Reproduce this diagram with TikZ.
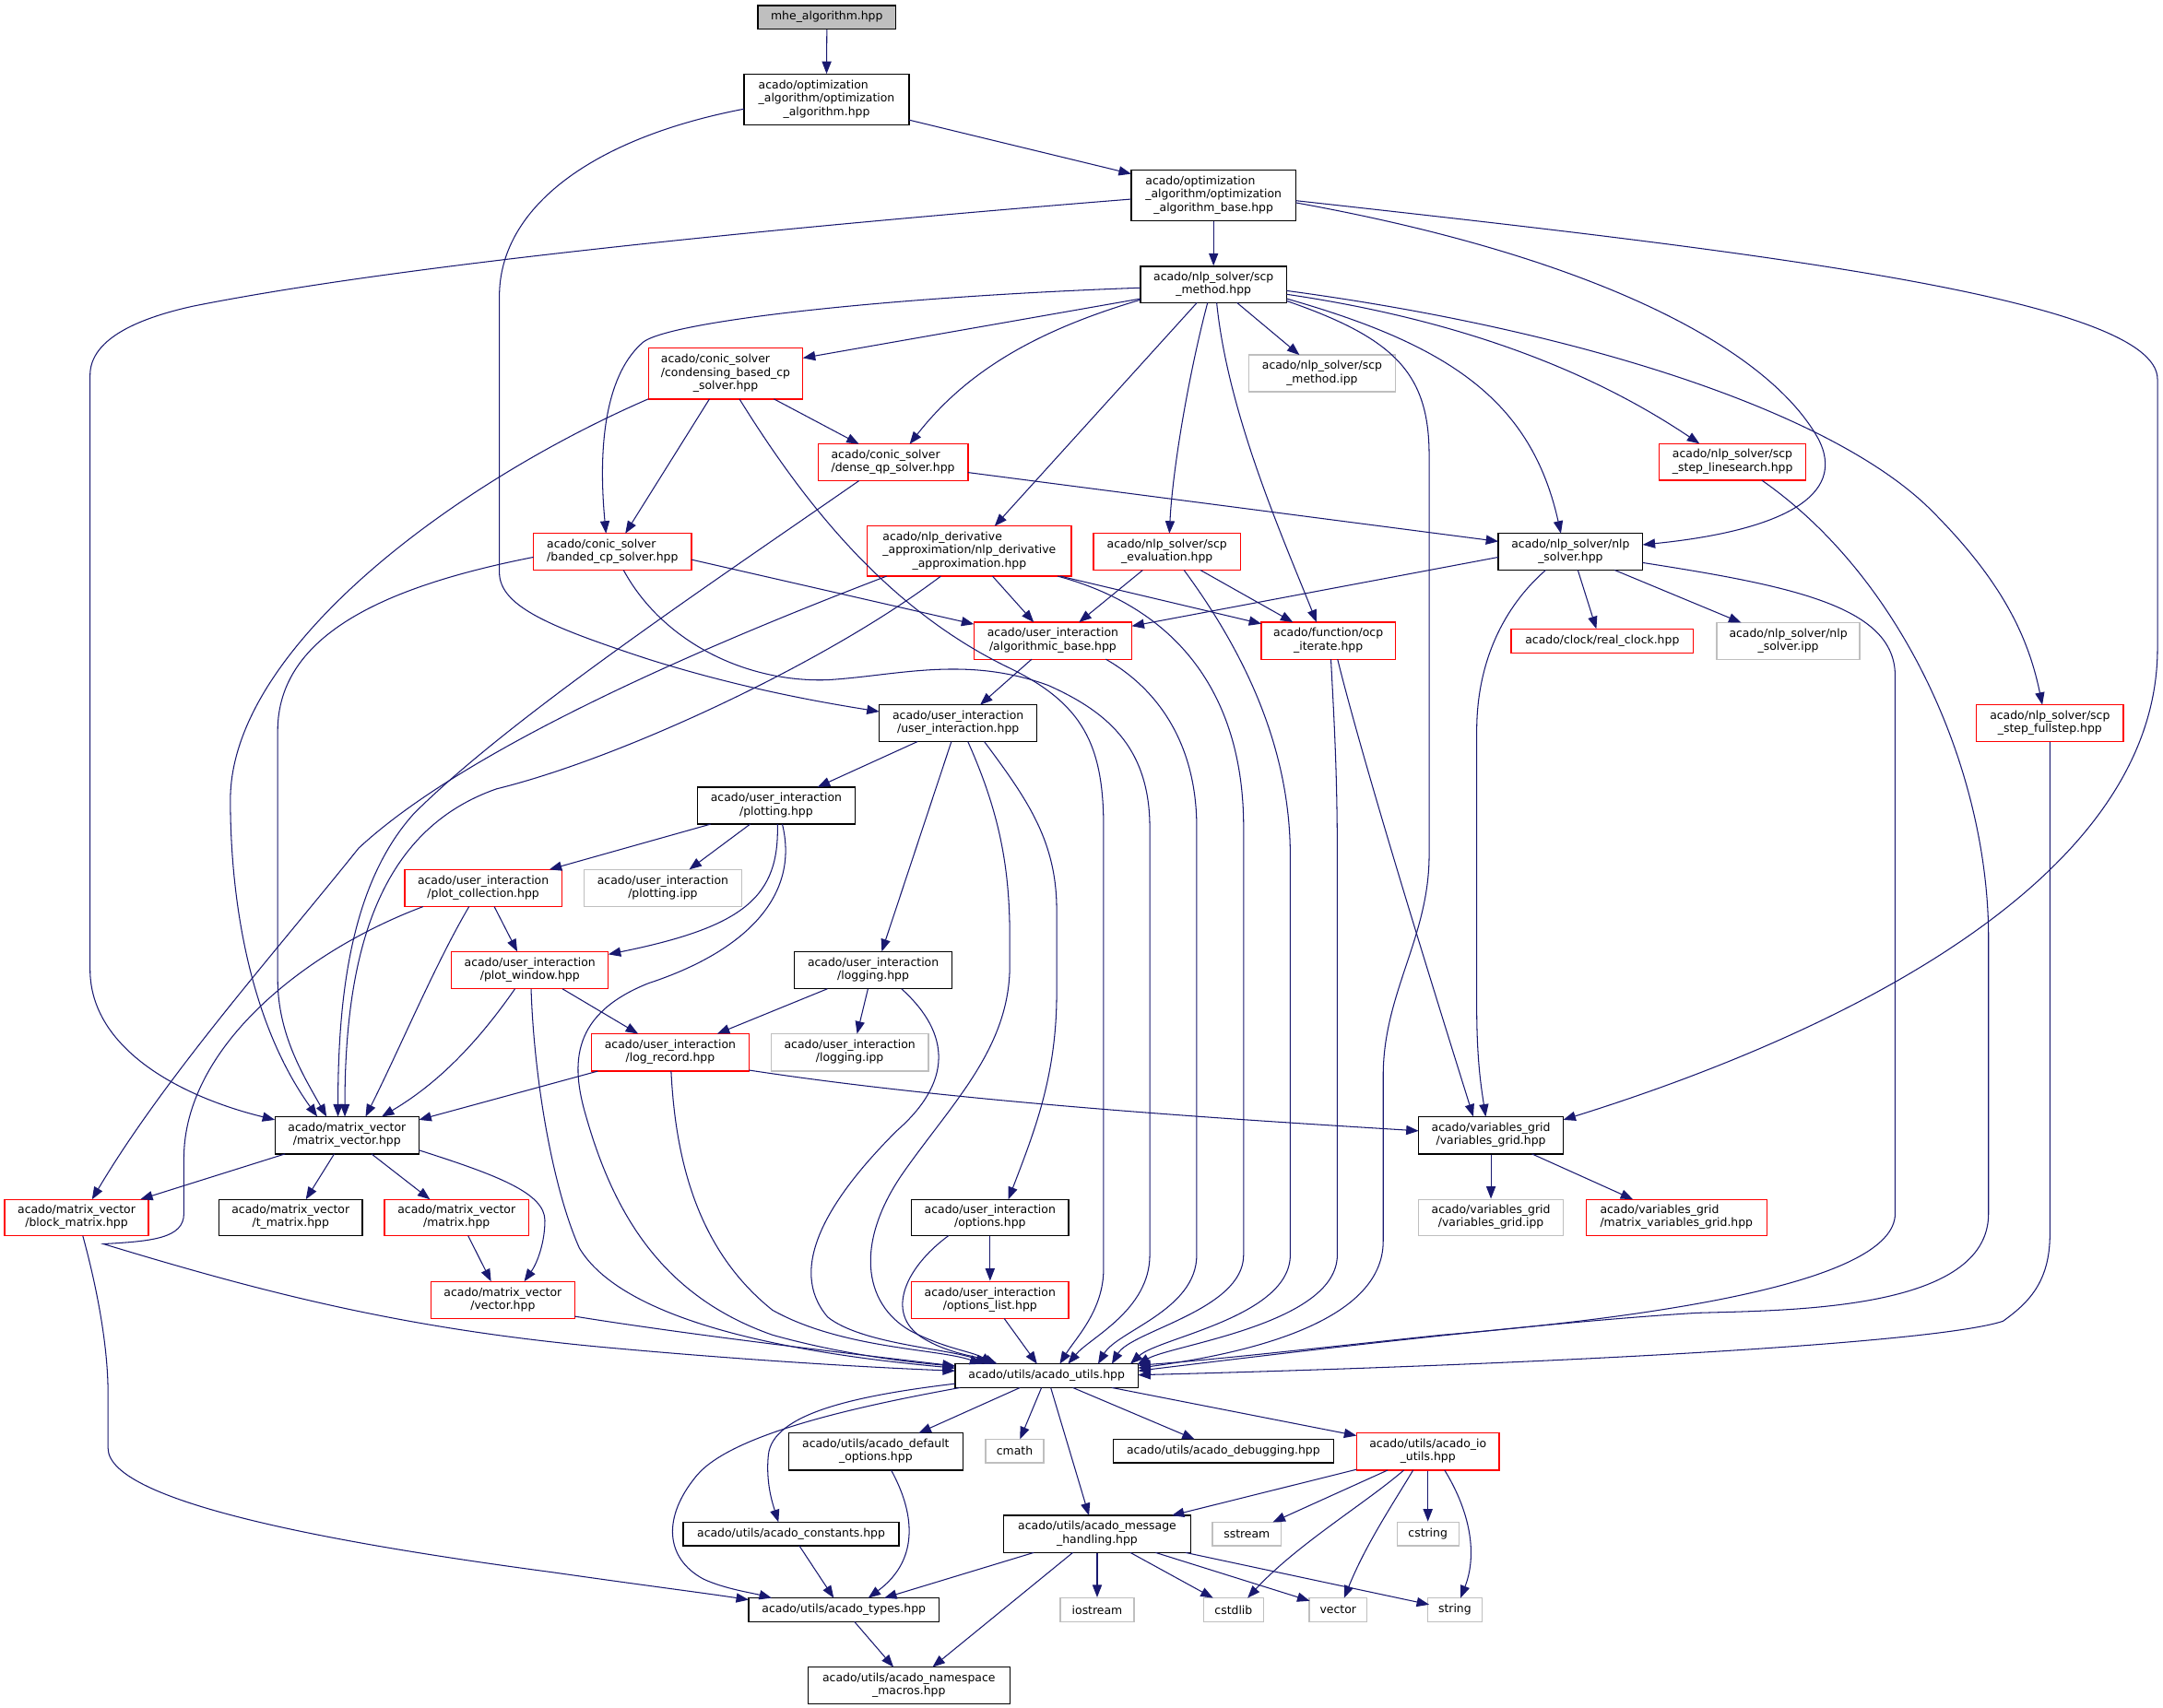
\documentclass[tikz,border=0pt]{standalone}
\usepackage{fontspec}
\setmainfont{DejaVu Sans}
\usetikzlibrary{arrows.meta,calc}
\definecolor{ecol}{RGB}{25,25,112}
\definecolor{gcol}{RGB}{191,191,191}
\definecolor{rcol}{RGB}{255,0,0}
\newcommand\mylbl[2]{\begin{tabular}{@{}c@{}}\multicolumn{1}{@{}l@{}}{#1}\\#2\end{tabular}}
\begin{document}
\begin{tikzpicture}[x=1pt,y=-1pt,
  boxbase/.style={draw, line width=0.9pt, inner sep=0pt, fill=white, font=\fontsize{8.3}{9.6}\selectfont},
  nb/.style={boxbase, draw=black},
  nr/.style={boxbase, draw=rcol},
  ng/.style={boxbase, draw=gcol},
  conn/.style={draw=ecol, line width=0.7pt, -{Triangle[length=9pt,width=6.8pt]}}]
\fill[white] (0,0) rectangle (1568,1238);
\useasboundingbox (0,0) rectangle (1568,1238);

% ---------- nodes ----------
\node[nb,fill=gcol,minimum width=100pt,minimum height=17pt] (mhe) at (599.4,12.5) {mhe\_algorithm.hpp};
\node[nb,minimum width=119.6pt,minimum height=36.4pt] (optalg) at (599.2,72.2) {\mylbl{acado/optimization}{\_algorithm/optimization\\\_algorithm.hpp}};
\node[nb,minimum width=119.4pt,minimum height=36.7pt] (optbase) at (879.7,141.65) {\mylbl{acado/optimization}{\_algorithm/optimization\\\_algorithm\_base.hpp}};
\node[nb,minimum width=106pt,minimum height=26.4pt] (scpm) at (879.7,206.3) {\mylbl{acado/nlp\_solver/scp}{\_method.hpp}};
\node[nr,minimum width=112pt,minimum height=36.9pt] (cond) at (526,270.85) {\mylbl{acado/conic\_solver}{/condensing\_based\_cp\\\_solver.hpp}};
\node[ng,minimum width=106pt,minimum height=26.6pt] (scpipp) at (958.4,270.7) {\mylbl{acado/nlp\_solver/scp}{\_method.ipp}};
\node[nr,minimum width=106.4pt,minimum height=26.6pt] (lines) at (1256,335) {\mylbl{acado/nlp\_solver/scp}{\_step\_linesearch.hpp}};
\node[nr,minimum width=108.7pt,minimum height=26.6pt] (dense) at (647.35,335.3) {\mylbl{acado/conic\_solver}{/dense\_qp\_solver.hpp}};
\node[nr,minimum width=148pt,minimum height=36.3pt] (nlpd) at (702.7,399.65) {\mylbl{acado/nlp\_derivative}{\_approximation/nlp\_derivative\\\_approximation.hpp}};
\node[nr,minimum width=106.7pt,minimum height=26.6pt] (scpe) at (846,400.1) {\mylbl{acado/nlp\_solver/scp}{\_evaluation.hpp}};
\node[nb,minimum width=104.6pt,minimum height=26.6pt] (nlps) at (1138.5,400.1) {\mylbl{acado/nlp\_solver/nlp}{\_solver.hpp}};
\node[nr,minimum width=114.6pt,minimum height=26.6pt] (band) at (444,400.1) {\mylbl{acado/conic\_solver}{/banded\_cp\_solver.hpp}};
\node[nr,minimum width=114.4pt,minimum height=26.8pt] (algb) at (763.2,464.6) {\mylbl{acado/user\_interaction}{/algorithmic\_base.hpp}};
\node[nr,minimum width=97pt,minimum height=26.8pt] (ocp) at (962.9,464.6) {\mylbl{acado/function/ocp}{\_iterate.hpp}};
\node[nr,minimum width=132pt,minimum height=17.4pt] (clock) at (1161.5,464.7) {acado/clock/real\_clock.hpp};
\node[ng,minimum width=103.7pt,minimum height=26.6pt] (nlpsipp) at (1296.35,464.8) {\mylbl{acado/nlp\_solver/nlp}{\_solver.ipp}};
\node[nr,minimum width=106.4pt,minimum height=26.6pt] (full) at (1486,524.4) {\mylbl{acado/nlp\_solver/scp}{\_step\_fullstep.hpp}};
\node[nb,minimum width=114.3pt,minimum height=26.6pt] (uint) at (694.55,524.4) {\mylbl{acado/user\_interaction}{/user\_interaction.hpp}};
\node[nb,minimum width=114pt,minimum height=26.9pt] (plot) at (562.7,584.15) {\mylbl{acado/user\_interaction}{/plotting.hpp}};
\node[nr,minimum width=114pt,minimum height=26.9pt] (pcol) at (350.3,643.95) {\mylbl{acado/user\_interaction}{/plot\_collection.hpp}};
\node[ng,minimum width=114.4pt,minimum height=26.9pt] (plotipp) at (480.5,643.95) {\mylbl{acado/user\_interaction}{/plotting.ipp}};
\node[nr,minimum width=113.7pt,minimum height=27pt] (pwin) at (384.15,703.5) {\mylbl{acado/user\_interaction}{/plot\_window.hpp}};
\node[nb,minimum width=114pt,minimum height=27pt] (logg) at (633,703.5) {\mylbl{acado/user\_interaction}{/logging.hpp}};
\node[nr,minimum width=114.3pt,minimum height=27.1pt] (logr) at (485.85,763.15) {\mylbl{acado/user\_interaction}{/log\_record.hpp}};
\node[ng,minimum width=114pt,minimum height=27.1pt] (logipp) at (616,763.15) {\mylbl{acado/user\_interaction}{/logging.ipp}};
\node[nb,minimum width=104.4pt,minimum height=27pt] (mv) at (251.5,823.2) {\mylbl{acado/matrix\_vector}{/matrix\_vector.hpp}};
\node[nb,minimum width=104.8pt,minimum height=27pt] (vg) at (1080.8,823.2) {\mylbl{acado/variables\_grid}{/variables\_grid.hpp}};
\node[nr,minimum width=104.4pt,minimum height=26.3pt] (blk) at (55.5,882.85) {\mylbl{acado/matrix\_vector}{/block\_matrix.hpp}};
\node[nb,minimum width=104pt,minimum height=26.3pt] (tmat) at (210.7,882.85) {\mylbl{acado/matrix\_vector}{/t\_matrix.hpp}};
\node[nr,minimum width=104.6pt,minimum height=26.3pt] (mat) at (331,882.85) {\mylbl{acado/matrix\_vector}{/matrix.hpp}};
\node[nr,minimum width=104.4pt,minimum height=26.9pt] (vec) at (364.5,942.65) {\mylbl{acado/matrix\_vector}{/vector.hpp}};
\node[nb,minimum width=114pt,minimum height=26.3pt] (opts) at (717.7,882.85) {\mylbl{acado/user\_interaction}{/options.hpp}};
\node[nr,minimum width=114pt,minimum height=26.9pt] (optl) at (717.7,942.65) {\mylbl{acado/user\_interaction}{/options\_list.hpp}};
\node[ng,minimum width=104.8pt,minimum height=26.3pt] (vgipp) at (1080.8,882.85) {\mylbl{acado/variables\_grid}{/variables\_grid.ipp}};
\node[nr,minimum width=131pt,minimum height=26.3pt] (mvg) at (1215.3,882.85) {\mylbl{acado/variables\_grid}{/matrix\_variables\_grid.hpp}};
\node[nb,minimum width=132.6pt,minimum height=17.2pt] (utils) at (758.7,997.6) {acado/utils/acado\_utils.hpp};
\node[nb,minimum width=126.3pt,minimum height=26.9pt] (defo) at (634.85,1052.55) {\mylbl{acado/utils/acado\_default}{\_options.hpp}};
\node[ng,minimum width=42.3pt,minimum height=17.1pt] (cmath) at (735.55,1052.15) {cmath};
\node[nb,minimum width=159.7pt,minimum height=17.1pt] (dbg) at (886.85,1052.15) {acado/utils/acado\_debugging.hpp};
\node[nr,minimum width=103.4pt,minimum height=26.9pt] (io) at (1035.1,1052.55) {\mylbl{acado/utils/acado\_io}{\_utils.hpp}};
\node[nb,minimum width=156.4pt,minimum height=17.1pt] (const) at (573.5,1112.25) {acado/utils/acado\_constants.hpp};
\node[nb,minimum width=135.3pt,minimum height=26.9pt] (msg) at (795.35,1112.35) {\mylbl{acado/utils/acado\_message}{\_handling.hpp}};
\node[ng,minimum width=49.7pt,minimum height=17.1pt] (sstream) at (903.85,1112.25) {sstream};
\node[ng,minimum width=44.8pt,minimum height=17.1pt] (cstring) at (1035.1,1112.25) {cstring};
\node[nb,minimum width=138pt,minimum height=17.2pt] (types) at (611.7,1167.3) {acado/utils/acado\_types.hpp};
\node[ng,minimum width=53.3pt,minimum height=17.2pt] (iostream) at (795.35,1167.3) {iostream};
\node[ng,minimum width=43.6pt,minimum height=17.2pt] (cstdlib) at (894.2,1167.3) {cstdlib};
\node[ng,minimum width=42pt,minimum height=17.2pt] (stdvec) at (970,1167.3) {vector};
\node[ng,minimum width=39.2pt,minimum height=17.2pt] (string) at (1054.6,1167.3) {string};
\node[nb,minimum width=146.3pt,minimum height=26.6pt] (nsm) at (658.85,1222.1) {\mylbl{acado/utils/acado\_namespace}{\_macros.hpp}};

% ---------- connectors ----------
\draw[conn] (mhe.south) -- (optalg.north);
\draw[conn] ($(optalg)+(59.8,14.8)$) -- ($(optbase)+(-59.7,-15.6)$);
\draw[conn] ($(optalg)+(-59.8,6.8)$) .. controls (430,100) and (362,150) .. (362,215) -- (362,415) .. controls (362,440) and (400,455) .. (470,478) .. controls (540,500) and (600,510) .. ($(uint)+(-57.15,-8.4)$);
\draw[conn] (optbase.south) -- (scpm.north);
\draw[conn] ($(optbase)+(-59.7,2.75)$) .. controls (600,162) and (300,190) .. (140,222) .. controls (90,233) and (65.3,250) .. (65.3,272) -- (65.3,703) .. controls (65.3,760) and (130,795) .. ($(mv)+(-52.2,-11.2)$);
\draw[conn] ($(optbase)+(59.7,5.35)$) .. controls (1150,185) and (1280,250) .. (1318,318) .. controls (1340,360) and (1290,385) .. ($(nlps)+(52.3,-5.1)$);
\draw[conn] ($(optbase)+(59.7,3.85)$) .. controls (1250,180) and (1564,215) .. (1564,275) -- (1564,470) .. controls (1564,650) and (1300,760) .. ($(vg)+(52.4,-11.2)$);

\draw[conn] ($(scpm)+(-53,10.3)$) -- ($(cond)+(56,-11.25)$);
\draw[conn] ($(scpm)+(-53,2.4)$) .. controls (650,215) and (490,232) .. (466.7,247.7) .. controls (440,270) and (433,320) .. ($(band)+(-4.7,-13.3)$);
\draw[conn] ($(scpm)+(-53,11.1)$) .. controls (750,240) and (700,270) .. ($(dense)+(12.05,-13.3)$);
\draw[conn] ($(scpm)+(-12,13.2)$) -- ($(nlpd)+(18.3,-18.15)$);
\draw[conn] ($(scpm)+(17,13.2)$) -- ($(scpipp)+(-16.4,-13.3)$);
\draw[conn] ($(scpm)+(-4.3,13.2)$) .. controls (862,270) and (850,340) .. ($(scpe)+(1.7,-13.3)$);
\draw[conn] ($(scpm)+(2.3,13.2)$) .. controls (890,300) and (930,390) .. ($(ocp)+(-8.5,-13.4)$);
\draw[conn] ($(scpm)+(53,11.9)$) .. controls (1010,245) and (1036,270) .. (1036,330) -- (1036,620) .. controls (1036,680) and (1002.7,720) .. (1002.7,780) -- (1002.7,900) .. controls (1002.7,960) and (900,982) .. ($(utils)+(66.3,-5.6)$);
\draw[conn] ($(scpm)+(53,10.3)$) .. controls (1050,250) and (1110,290) .. ($(nlps)+(-7,-13.3)$);
\draw[conn] ($(scpm)+(53,7.1)$) .. controls (1080,235) and (1170,280) .. ($(lines)+(-24,-13.3)$);
\draw[conn] ($(scpm)+(53,4.5)$) .. controls (1150,240) and (1330,300) .. (1400,370) .. controls (1450,420) and (1470,460) .. ($(full)+(-5.5,-13.3)$);

\draw[conn] ($(cond)+(35,18.45)$) -- ($(dense)+(-24.65,-13.3)$);
\draw[conn] ($(cond)+(-11.7,18.45)$) -- ($(band)+(9.3,-13.3)$);
\draw[conn] ($(cond)+(-56,18.45)$) .. controls (330,350) and (167,470) .. (167,580) .. controls (167,650) and (180,740) .. ($(mv)+(-21.5,-13.5)$);
\draw[conn] ($(cond)+(10,18.45)$) .. controls (580,360) and (640,440) .. (731,484) .. controls (785,510) and (800,540) .. (800,600) -- (800,920) .. controls (800,950) and (780,970) .. ($(utils)+(9.5,-8.6)$);

\draw[conn] ($(dense)+(54.35,7.3)$) -- ($(nlps)+(-52.3,-7.5)$);
\draw[conn] ($(dense)+(-24.65,13.3)$) .. controls (520,420) and (370,520) .. (300,590) .. controls (255,640) and (245,720) .. ($(mv)+(-6.5,-13.5)$);

\draw[conn] ($(band)+(57.3,5.7)$) -- ($(algb)+(-57.2,-12)$);
\draw[conn] ($(band)+(-57.3,3.9)$) .. controls (280,425) and (201.3,460) .. (201.3,530) -- (201.3,710) .. controls (201.3,750) and (220,780) .. ($(mv)+(-14.8,-13.5)$);
\draw[conn] ($(band)+(8,13.3)$) .. controls (480,465) and (540,495) .. (600,493) .. controls (650,490) and (700,475) .. (760,497) .. controls (800,515) and (833.5,540) .. (833.5,600) -- (833.5,910) .. controls (833.5,950) and (790,970) .. ($(utils)+(15.5,-8.6)$);

\draw[conn] ($(nlpd)+(16.8,18.15)$) -- ($(algb)+(-13.8,-13.4)$);
\draw[conn] ($(nlpd)+(66,18.15)$) -- ($(ocp)+(-48.5,-12.3)$);
\draw[conn] ($(nlpd)+(-20.7,18.15)$) .. controls (600,480) and (450,550) .. (360,572) .. controls (280,600) and (250,680) .. ($(mv)+(-1.5,-13.5)$);
\draw[conn] ($(nlpd)+(-60,18.15)$) .. controls (480,480) and (330,550) .. (260,615) .. controls (200,690) and (120,780) .. ($(blk)+(11.2,-13.15)$);
\draw[conn] ($(nlpd)+(64,18.15)$) .. controls (850,440) and (901.5,500) .. (901.5,600) -- (901.5,910) .. controls (901.5,950) and (820,965) .. ($(utils)+(47.3,-8.6)$);

\draw[conn] ($(scpe)+(-17.6,13.3)$) -- ($(algb)+(19,-13.4)$);
\draw[conn] ($(scpe)+(24.2,13.3)$) -- ($(ocp)+(-25.6,-13.4)$);
\draw[conn] ($(scpe)+(12.3,13.3)$) .. controls (900,470) and (935.3,540) .. (935.3,620) -- (935.3,910) .. controls (935.3,955) and (840,970) .. ($(utils)+(60.7,-8.6)$);

\draw[conn] ($(nlps)+(-52.3,3.9)$) -- ($(algb)+(57.2,-10.6)$);
\draw[conn] ($(nlps)+(5.3,13.3)$) -- ($(clock)+(-4.3,-8.7)$);
\draw[conn] ($(nlps)+(32,13.3)$) -- ($(nlpsipp)+(-34.15,-13.3)$);
\draw[conn] ($(nlps)+(-18,13.3)$) .. controls (1090,440) and (1070.5,480) .. (1070.5,530) -- (1070.5,730) .. controls (1070.5,770) and (1074,790) .. ($(vg)+(-3.8,-13.5)$);
\draw[conn] ($(nlps)+(52.3,7.9)$) .. controls (1300,425) and (1373.8,440) .. (1373.8,490) -- (1373.8,880) .. controls (1373.8,930) and (1200,955) .. (1045,968) .. controls (950,978) and (880,986) .. ($(utils)+(66.3,-7.6)$);

\draw[conn] ($(lines)+(21.2,13.3)$) .. controls (1380,420) and (1441.5,560) .. (1441.5,680) -- (1441.5,880) .. controls (1441.5,950) and (1300,950) .. (1230,952) .. controls (1100,960) and (900,985) .. ($(utils)+(66.3,-3.6)$);
\draw[conn] (full.south) -- (1486,895) .. controls (1486,930) and (1470,945) .. (1452,958) .. controls (1400,975) and (1100,990) .. ($(utils)+(66.3,-0.6)$);

\draw[conn] ($(algb)+(-15.3,13.4)$) -- ($(uint)+(15.95,-13.3)$);
\draw[conn] ($(algb)+(38.4,13.4)$) .. controls (840,500) and (867.5,540) .. (867.5,600) -- (867.5,910) .. controls (867.5,950) and (810,965) .. ($(utils)+(37.3,-8.6)$);
\draw[conn] ($(ocp)+(1.9,13.4)$) .. controls (967,520) and (969.4,560) .. (969.4,620) -- (969.4,910) .. controls (969.4,960) and (850,975) .. ($(utils)+(65.7,-8.1)$);
\draw[conn] ($(ocp)+(6.7,13.4)$) .. controls (990,560) and (1040,720) .. ($(vg)+(-12.8,-13.5)$);

\draw[conn] ($(uint)+(-29.35,13.3)$) -- ($(plot)+(30,-13.45)$);
\draw[conn] ($(uint)+(-4.85,13.3)$) -- ($(logg)+(6.2,-13.5)$);
\draw[conn] ($(uint)+(18.95,13.3)$) .. controls (745,580) and (766,610) .. (766,660) -- (766,720) .. controls (766,780) and (750,820) .. ($(opts)+(13.3,-13.15)$);
\draw[conn] ($(uint)+(7.05,13.3)$) .. controls (725,590) and (732,630) .. (732,680) -- (732,700) .. controls (732,760) and (690,800) .. (655,850) .. controls (620,900) and (625,945) .. (660,965) .. controls (685,978) and (705,980) .. ($(utils)+(-38.7,-8.6)$);

\draw[conn] ($(plot)+(-47.6,13.45)$) -- ($(pcol)+(47.9,-13.45)$);
\draw[conn] ($(plot)+(-18.9,13.45)$) -- ($(plotipp)+(19.1,-13.45)$);
\draw[conn] ($(plot)+(0.9,13.45)$) .. controls (565,650) and (540,672) .. ($(pwin)+(56.85,-11.5)$);
\draw[conn] ($(plot)+(4.4,13.45)$) .. controls (580,650) and (540,690) .. (470,713) .. controls (415,735) and (413,770) .. (425,810) .. controls (445,880) and (480,940) .. (560,968) .. controls (610,982) and (660,988) .. ($(utils)+(-66.3,-7.1)$);

\draw[conn] ($(pcol)+(8,13.45)$) -- ($(pwin)+(-9.15,-13.5)$);
\draw[conn] ($(pcol)+(-10.3,13.45)$) .. controls (315,700) and (290,760) .. ($(mv)+(13.5,-13.5)$);
\draw[conn] ($(pcol)+(-43.6,13.45)$) .. controls (220,690) and (133.3,760) .. (133.3,840) -- (133.3,880) .. controls (133.3,898) and (110,900) .. (75,902) .. controls (200,940) and (300,965) .. (450,978) .. controls (550,987) and (640,992) .. ($(utils)+(-66.3,-3.6)$);

\draw[conn] ($(pwin)+(23.55,13.5)$) -- ($(logr)+(-23.25,-13.55)$);
\draw[conn] ($(pwin)+(-10.85,13.5)$) .. controls (340,765) and (310,790) .. ($(mv)+(25.2,-13.5)$);
\draw[conn] ($(pwin)+(0.85,13.5)$) .. controls (387,780) and (400,860) .. (420,905) .. controls (450,955) and (560,980) .. ($(utils)+(-66.3,-5.6)$);

\draw[conn] ($(logg)+(-33.2,13.5)$) -- ($(logr)+(34.05,-13.55)$);
\draw[conn] ($(logg)+(-3.8,13.5)$) -- ($(logipp)+(5.3,-13.55)$);
\draw[conn] ($(logg)+(20.5,13.5)$) .. controls (690,750) and (690,785) .. (650,820) .. controls (600,870) and (570,920) .. (600,955) .. controls (625,975) and (690,978) .. ($(utils)+(-42.7,-8.6)$);

\draw[conn] ($(logr)+(-52.55,13.55)$) -- ($(mv)+(52.2,-11.2)$);
\draw[conn] ($(logr)+(57.15,12.85)$) .. controls (700,800) and (900,812) .. ($(vg)+(-52.4,-3.2)$);
\draw[conn] ($(logr)+(0.65,13.55)$) .. controls (490,850) and (510,910) .. (560,950) .. controls (610,978) and (680,978) .. ($(utils)+(-46.7,-8.6)$);

\draw[conn] ($(mv)+(-44.8,13.5)$) -- ($(blk)+(46.2,-13.15)$);
\draw[conn] ($(mv)+(-9.2,13.5)$) -- ($(tmat)+(11,-13.15)$);
\draw[conn] ($(mv)+(17.8,13.5)$) -- ($(mat)+(-19.3,-13.15)$);
\draw[conn] ($(mv)+(52.2,10.8)$) .. controls (360,852) and (395,865) .. (395,885) .. controls (395,900) and (390,915) .. ($(vec)+(15.5,-13.45)$);
\draw[conn] ($(mat)+(8.3,13.15)$) -- ($(vec)+(-8.5,-13.45)$);
\draw[conn] ($(vec)+(52.2,11.85)$) .. controls (500,968) and (620,982) .. ($(utils)+(-66.3,-7.1)$);
\draw[conn] ($(blk)+(4.5,13.15)$) .. controls (72,940) and (78.3,980) .. (78.3,1010) -- (78.3,1050) .. controls (78.3,1090) and (250,1120) .. (400,1140) .. controls (470,1150) and (510,1155) .. ($(types)+(-69,-7.3)$);

\draw[conn] (opts.south) -- (optl.north);
\draw[conn] ($(opts)+(-30.1,13.15)$) .. controls (655,920) and (640,955) .. (672,972) .. controls (690,982) and (710,984) .. ($(utils)+(-35.7,-8.6)$);
\draw[conn] ($(optl)+(10.3,13.45)$) -- ($(utils)+(-6.9,-8.6)$);

\draw[conn] (vg.south) -- (vgipp.north);
\draw[conn] ($(vg)+(29.7,13.5)$) -- ($(mvg)+(-31.5,-13.15)$);

\draw[conn] ($(utils)+(-19.3,8.6)$) -- ($(defo)+(31.15,-13.45)$);
\draw[conn] ($(utils)+(-3.7,8.6)$) -- ($(cmath)+(3.85,-8.55)$);
\draw[conn] ($(utils)+(19,8.6)$) -- ($(dbg)+(-20.85,-8.55)$);
\draw[conn] ($(utils)+(47.3,8.6)$) -- ($(io)+(-51.7,-11.55)$);
\draw[conn] ($(utils)+(3,8.6)$) -- ($(msg)+(-5.95,-13.45)$);
\draw[conn] ($(utils)+(-66.3,5.7)$) .. controls (620,1012) and (560,1025) .. (557,1055) .. controls (555,1075) and (560,1090) .. ($(const)+(-9.2,-8.55)$);
\draw[conn] ($(utils)+(-62.7,8.6)$) .. controls (620,1020) and (530,1040) .. (505,1070) .. controls (480,1100) and (482,1130) .. (510,1145) .. controls (525,1152) and (545,1155) .. ($(types)+(-52.3,-8.6)$);

\draw[conn] ($(defo)+(11.15,13.45)$) .. controls (662,1095) and (668,1130) .. ($(types)+(17.7,-8.6)$);
\draw[conn] ($(const)+(5.9,8.55)$) -- ($(types)+(-7.3,-8.6)$);
\draw[conn] ($(msg)+(-45.95,13.45)$) -- ($(types)+(29.3,-8.6)$);
\draw[conn] (msg.south) -- (iostream.north);
\draw[conn] ($(msg)+(24.05,13.45)$) -- ($(cstdlib)+(-14.8,-8.6)$);
\draw[conn] ($(msg)+(42.35,13.45)$) -- ($(stdvec)+(-20.6,-6.5)$);
\draw[conn] ($(msg)+(64.05,13.45)$) -- ($(string)+(-18.6,-3.8)$);
\draw[conn] ($(msg)+(-17.65,13.45)$) -- ($(nsm)+(17.15,-13.3)$);
\draw[conn] ($(types)+(7.7,8.6)$) -- ($(nsm)+(-11.15,-13.3)$);
\draw[conn] ($(io)+(-51.7,12.95)$) -- ($(msg)+(54.05,-13.45)$);
\draw[conn] ($(io)+(-29.1,13.45)$) -- ($(sstream)+(18.85,-8.55)$);
\draw[conn] ($(io)+(-17.4,13.45)$) .. controls (990,1090) and (940,1120) .. ($(cstdlib)+(10.2,-8.6)$);
\draw[conn] ($(io)+(-10.7,13.45)$) .. controls (1010,1090) and (990,1120) .. ($(stdvec)+(4.4,-8.6)$);
\draw[conn] (io.south) -- (cstring.north);
\draw[conn] ($(io)+(12.1,13.45)$) .. controls (1068,1100) and (1070,1130) .. ($(string)+(4.2,-8.6)$);
\end{tikzpicture}
\end{document}
